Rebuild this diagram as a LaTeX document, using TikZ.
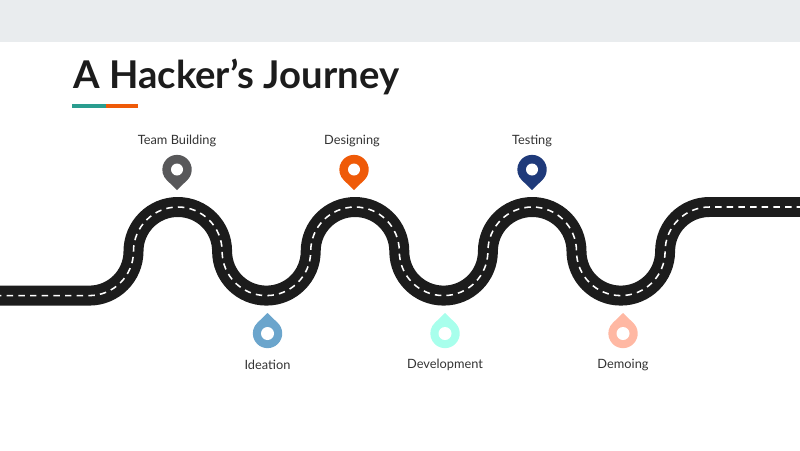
\documentclass[tikz,border=0pt]{standalone}
\usepackage{fontspec}
\setmainfont{Lato}
\definecolor{topbar}{RGB}{233,236,238}
\definecolor{roadblack}{RGB}{28,28,28}
\definecolor{teal2}{RGB}{42,157,143}
\definecolor{ocre}{RGB}{239,90,8}
\definecolor{pingray}{RGB}{88,88,90}
\definecolor{pinnavy}{RGB}{31,58,122}
\definecolor{dropblue}{RGB}{107,165,204}
\definecolor{dropmint}{RGB}{168,255,236}
\definecolor{droppeach}{RGB}{255,184,163}
\tikzset{stoplabel/.style={text=black!80,font=\fontsize{9.1pt}{11pt}\selectfont,inner sep=0pt}}
\begin{document}
\begin{tikzpicture}[x=0.025cm,y=0.025cm]
\useasboundingbox (0,0) rectangle (800,450);
\fill [topbar] (0,408) rectangle (800,450);
\node (title) [anchor=west,inner sep=0pt,text=roadblack,font=\fontsize{27.2pt}{30pt}\selectfont\bfseries] at (73,373) {A Hacker’s Journey};
\fill [teal2] (72,342) rectangle (106,346);
\fill [ocre] (106,342) rectangle (137.5,346);
\clip (0,0) rectangle (800,450);
\def\roadpath{(-5,154.4) -- (89.2,154.4) arc (-90:0:44.3) arc (180:0:44.3) arc (180:360:44.3) arc (180:0:44.3) arc (180:360:44.3) arc (180:0:44.3) arc (180:360:44.3) arc (180:90:44.3) -- (805,243)}
\draw [line width=14.2pt,roadblack] \roadpath;
\draw [line width=1.1pt,white,dash pattern=on 4.6pt off 3.7pt] \roadpath;
% pins above the road
\foreach \x/\c/\n/\t/\lx in {177/pingray/team/Team Building/177,354/ocre/design/Designing/352,532/pinnavy/test/Testing/532} {
  \fill [\c] (\x,260) -- ++(44:14.2) arc (-46:226:14.7) -- cycle;
  \fill [white] (\x,280.5) circle (6);
  \node (\n) [stoplabel] at (\lx,309.5) {\t};
}
% drops below the road
\foreach \x/\c/\n/\t in {267.5/dropblue/idea/Ideation,445/dropmint/dev/Development,623/droppeach/demo/Demoing} {
  \fill [\c] (\x,137) -- ++(-44:14.2) arc (46:-226:14.7) -- cycle;
  \fill [white] (\x,116.5) circle (6.5);
  \node (\n) [stoplabel] at (\x,85.5) {\t};
}
\end{tikzpicture}
\end{document}
